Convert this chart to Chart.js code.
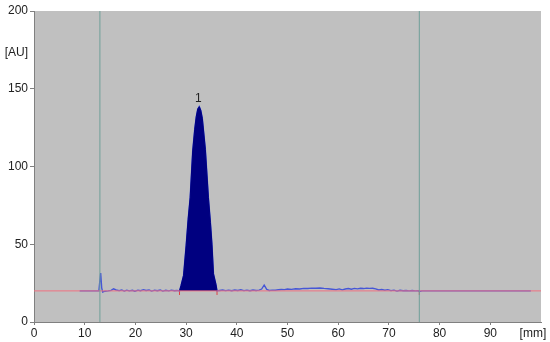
<!DOCTYPE html>
<html>
<head>
<meta charset="utf-8">
<script src="https://cdn.jsdelivr.net/npm/chart.js@4/dist/chart.umd.min.js"></script>
<style>
  html, body { margin: 0; padding: 0; background: #fff; }
  #wrap { width: 550px; height: 342px; }
</style>
</head>
<body>
<div id="wrap"><canvas id="chrom"></canvas></div>
<script>
// chromatogram trace (x in mm, signal in AU)
const traceX = [9, 10, 11, 12, 12.8, 13.0, 13.15, 13.35, 13.55, 14.0, 14.6, 15.2, 15.7, 16.2, 16.8, 17.3, 17.8, 18.3, 18.8, 19.4, 19.9,
  20.5, 21.0, 21.6, 22.1, 22.7, 23.2, 23.8, 24.3, 24.9, 25.4, 26.0, 26.6, 27.1, 27.7, 28.2];
const traceY = [20, 20, 20, 20, 20.1, 27, 31.5, 22, 19.3, 19.8, 20.0, 20.3, 21.3, 20.6, 20.2, 20.6, 19.9, 20.5, 20.0, 20.4, 19.8,
  20.5, 20.1, 20.8, 20.3, 20.6, 19.9, 20.5, 20.1, 20.6, 19.9, 20.4, 20.0, 20.5, 20.1, 20.3];

const peakX = [28.7, 29.0, 29.5, 30.0, 30.4, 30.8, 31.3, 31.7, 32.0, 32.3, 32.6, 32.9, 33.2, 33.8, 34.4, 34.8, 35.1, 35.4, 35.9, 36.1];
const peakY = [20, 23.5, 30, 49, 66, 80, 110, 124, 132, 137, 138.5, 136, 131, 111, 80, 64, 50, 31, 24, 20];

const tailX = [36.6, 37.2, 37.8, 38.4, 39.0, 39.6, 40.2, 40.8, 41.4, 42.0, 42.6, 43.2, 43.8, 44.4, 44.9, 45.4, 45.9, 46.4, 47.0, 47.6,
  48.2, 48.8, 49.4, 50.0, 50.8, 51.6, 52.4, 53.2, 54.0, 54.8, 55.6, 56.4, 57.2, 58.0, 58.8, 59.6, 60.2, 60.8, 61.4, 62.0, 62.6, 63.2,
  63.8, 64.4, 65.0, 65.6, 66.2, 66.8, 67.4, 68.0, 68.6, 69.2, 69.8, 70.4, 71.0, 71.6, 72.2, 72.8, 73.4, 74.0, 74.6, 75.2, 75.8, 76.0,
  76.5, 80, 90, 98];
const tailY = [20.3, 20.6, 20.2, 20.5, 20.1, 20.6, 20.3, 20.7, 20.2, 20.5, 20.1, 20.6, 20.3, 20.5, 21.2, 23.8, 21.0, 20.3, 20.5, 20.4,
  20.7, 20.9, 20.8, 21.2, 21.0, 21.4, 21.2, 21.6, 21.5, 21.8, 21.7, 21.9, 21.6, 21.4, 21.1, 20.8, 21.3, 20.7, 21.2, 21.5, 21.1, 21.6,
  21.3, 21.7, 21.5, 21.8, 21.6, 21.7, 21.3, 20.6, 20.9, 20.4, 20.8, 20.2, 20.5, 19.9, 20.4, 20.1, 20.3, 20.0, 20.3, 20.0, 20.1, 19.6,
  20.0, 20, 20, 20];

const baselineX = [0, 100];
const baselineY = [20, 20];
const peakBounds = [28.7, 36.1, 76];
const markerLines = [13, 76];
const peakLabels = ['1'];

const xTickValues = [0, 10, 20, 30, 40, 50, 60, 70, 80, 90];
const yTickValues = [0, 50, 100, 150, 200];
const xUnit = '[mm]';
const yUnit = '[AU]';

const pts = (xs, ys) => xs.map((x, i) => ({ x: x, y: ys[i] }));

const allX = traceX.concat(peakX, tailX);
const allY = traceY.concat(peakY, tailY);

const X_UNIT_AT = 98.4;
const Y_UNIT_AT = 173.5;
const FONT = '"Liberation Sans", Arial, sans-serif';

const datasets = [];
markerLines.forEach(m => {
  datasets.push({ data: [{ x: m, y: 0 }, { x: m, y: 200 }], borderColor: '#6f9f98', borderWidth: 1, pointRadius: 0 });
});
datasets.push({ data: pts(baselineX, baselineY), borderColor: '#f07080', borderWidth: 1, pointRadius: 0 });
datasets.push({ data: pts(peakX, peakY), borderColor: '#000080', backgroundColor: '#000080', borderWidth: 1,
  pointRadius: 0, fill: { value: 20 } });
datasets.push({ data: pts(allX, allY), borderColor: '#4656d6', borderWidth: 1.4, pointRadius: 0 });
datasets.push({ data: peakBounds.map(b => ({ x: b, y: 19 })), showLine: false, pointStyle: 'line', rotation: 90,
  pointRadius: 2.5, borderColor: '#e04040', borderWidth: 1 });

const areaBg = {
  id: 'areaBg',
  beforeDraw(chart) {
    const a = chart.chartArea, c = chart.ctx;
    c.save();
    c.fillStyle = '#c0c0c0';
    c.fillRect(a.left, a.top, a.right - a.left, a.bottom - a.top);
    c.restore();
  }
};

const peakText = {
  id: 'peakText',
  afterDatasetsDraw(chart) {
    const c = chart.ctx;
    const top = peakY.indexOf(Math.max(...peakY));
    c.save();
    c.font = '12px ' + FONT;
    c.fillStyle = '#222';
    c.textAlign = 'center';
    c.textBaseline = 'bottom';
    c.fillText(peakLabels[0], chart.scales.x.getPixelForValue(peakX[top]) - 1,
      chart.scales.y.getPixelForValue(peakY[top]) - 2);
    c.restore();
  }
};

new Chart(document.getElementById('chrom'), {
  type: 'line',
  data: { datasets: datasets },
  options: {
    responsive: true,
    maintainAspectRatio: false,
    animation: false,
    layout: { padding: { top: 11, right: 9, left: 0, bottom: 0 } },
    plugins: { legend: { display: false }, tooltip: { enabled: false } },
    scales: {
      x: {
        type: 'linear', min: 0, max: 100,
        afterFit: s => { s.height = 20; s.paddingRight = 0; s.paddingLeft = 0; },
        afterBuildTicks: s => { s.ticks = xTickValues.concat([X_UNIT_AT]).map(v => ({ value: v })); },
        border: { color: '#808080' },
        grid: { drawOnChartArea: false, tickLength: 3,
          tickColor: ctx => ctx.tick && ctx.tick.value === X_UNIT_AT ? 'rgba(0,0,0,0)' : '#808080' },
        ticks: {
          autoSkip: false, maxRotation: 0, padding: 1, color: '#222',
          font: { family: FONT, size: 12 },
          callback: v => v === X_UNIT_AT ? xUnit : v
        }
      },
      y: {
        min: 0, max: 200,
        afterFit: s => { s.width = 34; },
        afterBuildTicks: s => { s.ticks = yTickValues.concat([Y_UNIT_AT]).sort((a, b) => a - b).map(v => ({ value: v })); },
        border: { color: '#808080' },
        grid: { drawOnChartArea: false, tickLength: 4,
          tickColor: ctx => ctx.tick && ctx.tick.value === Y_UNIT_AT ? 'rgba(0,0,0,0)' : '#808080' },
        ticks: {
          padding: 2, color: '#222',
          font: { family: FONT, size: 12 },
          callback: v => v === Y_UNIT_AT ? yUnit : v
        }
      }
    }
  },
  plugins: [areaBg, peakText]
});
</script>
</body>
</html>
